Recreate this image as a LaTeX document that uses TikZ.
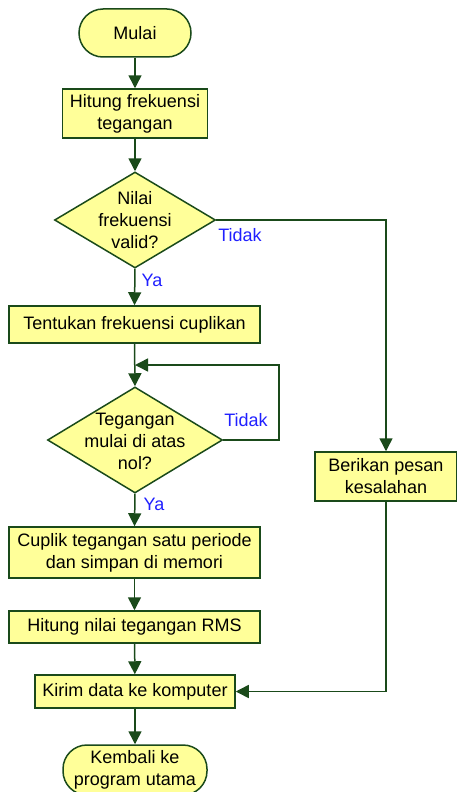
\documentclass[tikz,border=0pt]{standalone}
\usepackage{fontspec}
\setmainfont{Liberation Sans}
\usetikzlibrary{shapes.geometric,arrows.meta}
\definecolor{fcfill}{HTML}{FFFF99}
\definecolor{fcline}{HTML}{1A4A1A}
\definecolor{fcblue}{HTML}{2020FF}
\tikzset{
  base/.style={draw=fcline, line width=1.5pt, fill=fcfill, inner sep=0pt, font=\fontsize{18}{22}\selectfont, align=center},
  procbox/.style={base, rectangle},
  termbox/.style={base, rectangle, rounded corners=24pt},
  decbox/.style={base, diamond},
  txt/.style={inner sep=0pt, font=\fontsize{18}{22}\selectfont, align=center},
  lbl/.style={inner sep=0pt, font=\fontsize{18}{22}\selectfont, text=fcblue},
  conn/.style={draw=fcline, line width=1.5pt, -{Triangle[width=13pt,length=13pt]}},
  plainconn/.style={draw=fcline, line width=1.5pt},
}
\begin{document}
\begin{tikzpicture}[x=1pt,y=-1pt]
\useasboundingbox (0,0) rectangle (457,792);
\node[termbox, minimum width=112pt, minimum height=48pt] (start) at (135,33) {Mulai};
\node[procbox, minimum width=145pt, minimum height=49pt] (hf) at (135,113.5) {Hitung frekuensi\\tegangan};
\node[decbox, minimum width=161pt, minimum height=96pt] (d1) at (135,220) {};
\node[txt] (d1t) at (135,220) {Nilai\\frekuensi\\valid?};
\node[procbox, minimum width=251pt, minimum height=37pt] (tf) at (134.5,324.5) {Tentukan frekuensi cuplikan};
\coordinate (j) at (135,365);
\node[decbox, minimum width=175pt, minimum height=106pt] (d2) at (135,440) {};
\node[txt] (d2t) at (135,441) {Tegangan\\mulai di atas\\nol?};
\node[procbox, minimum width=251pt, minimum height=51pt] (cup) at (134.5,552.5) {Cuplik tegangan satu periode\\dan simpan di memori};
\node[procbox, minimum width=251pt, minimum height=32pt] (rms) at (134.5,627) {Hitung nilai tegangan RMS};
\node[procbox, minimum width=200pt, minimum height=33pt] (kirim) at (135,691.5) {Kirim data ke komputer};
\node[termbox, minimum width=144pt, minimum height=50pt] (end) at (135,770) {Kembali ke\\program utama};
\node[procbox, minimum width=142pt, minimum height=49pt] (err) at (386,476.5) {Berikan pesan\\kesalahan};
\coordinate (loopA) at (279,440);
\coordinate (loopB) at (279,365);

\draw[conn] (start) -- (hf);
\draw[conn] (hf) -- (d1.north);
\draw[conn] (d1.south) -- (tf.north);
\draw[conn] (tf.south) -- (d2.north);
\draw[conn] (d2.east) -- (loopA) -- (loopB) -- (j);
\draw[conn] (d2.south) -- (cup.north);
\draw[conn] (cup) -- (rms);
\draw[conn] (rms) -- (kirim);
\draw[conn] (kirim) -- (end.north);
\draw[conn] (d1.east) -| (err.north);
\draw[conn] (err.south) |- (kirim.east);

\node[lbl] (ya1) at (152,280) {Ya};
\node[lbl] (tidak1) at (240,235) {Tidak};
\node[lbl] (tidak2) at (246,420) {Tidak};
\node[lbl] (ya2) at (154,504) {Ya};
\end{tikzpicture}
\end{document}
